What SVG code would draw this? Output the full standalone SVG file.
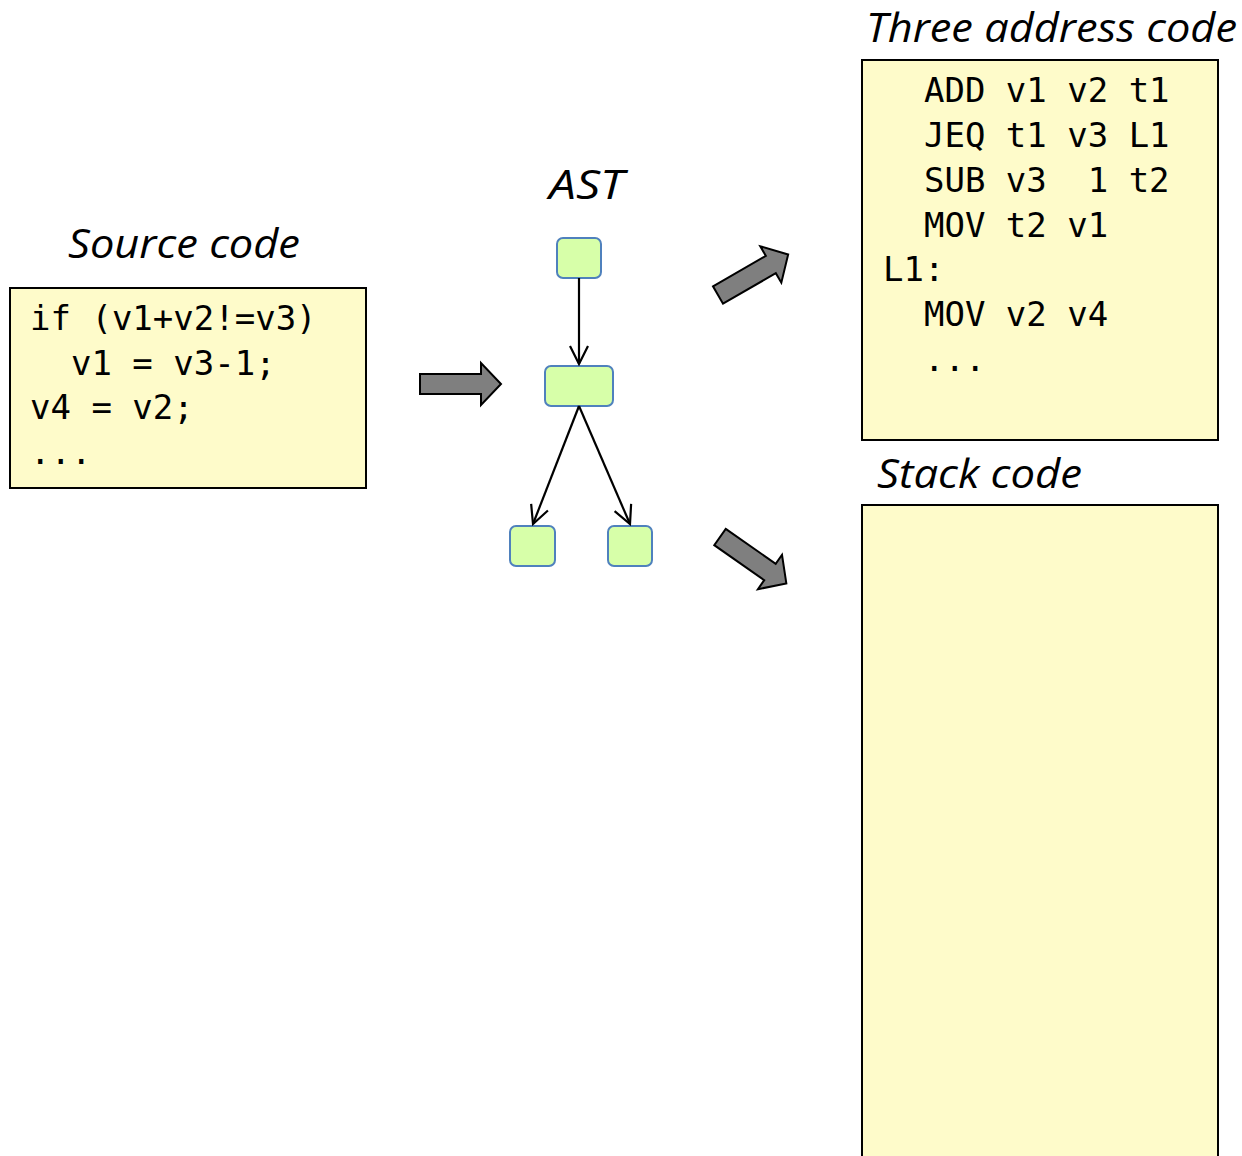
<svg xmlns="http://www.w3.org/2000/svg" width="1242" height="1156" viewBox="0 0 1242 1156">
  <style>
    .title { font-family: "Open Sans", "Noto Sans", sans-serif; font-style: italic; font-size: 40px; fill: #000; }
    .code { font-family: "DejaVu Sans Mono", "Liberation Mono", monospace; font-size: 34px; fill: #000; white-space: pre; }
    .codebox { fill: #FEFBCA; stroke: #000; stroke-width: 2; }
    .astnode { fill: #D7FFA9; stroke: #4F81BD; stroke-width: 2; }
    .edge { stroke: #000; stroke-width: 2.2; fill: none; }
    .bigarrow { fill: #7F7F7F; stroke: #000; stroke-width: 2; stroke-linejoin: miter; }
  </style>
  <defs>
    <marker id="open" viewBox="0 0 22 22" refX="20" refY="11" markerWidth="22" markerHeight="22" markerUnits="userSpaceOnUse" orient="auto">
      <path d="M2,2 L20,11 L2,20" fill="none" stroke="#000" stroke-width="2.2"/>
    </marker>
    <!-- block arrow pointing along +x, origin at the middle of its tail -->
    <path id="blockArrow" d="M0,-10 L61,-10 L61,-21 L81,0 L61,21 L61,10 L0,10 Z"/>
  </defs>

  <rect width="1242" height="1156" fill="#fff"/>

  <!-- Source code -->
  <g id="source">
    <text class="title" x="68" y="258" textLength="232" lengthAdjust="spacingAndGlyphs">Source code</text>
    <rect class="codebox" x="10" y="288" width="356" height="200"/>
    <text class="code" x="30" y="330">if (v1+v2!=v3)</text>
    <text class="code" x="30" y="375">  v1 = v3-1;</text>
    <text class="code" x="30" y="419">v4 = v2;</text>
    <text class="code" x="30" y="464">...</text>
  </g>

  <!-- AST -->
  <g id="ast">
    <text class="title" x="549" y="199" textLength="75" lengthAdjust="spacingAndGlyphs">AST</text>
    <rect id="ast-root" class="astnode" x="557" y="238" width="44" height="40" rx="6"/>
    <rect id="ast-mid" class="astnode" x="545" y="366" width="68" height="40" rx="6"/>
    <rect id="ast-left" class="astnode" x="510" y="526" width="45" height="40" rx="6"/>
    <rect id="ast-right" class="astnode" x="608" y="526" width="44" height="40" rx="6"/>
  </g>

  <!-- Three address code -->
  <g id="three-address">
    <text class="title" x="866" y="42" textLength="371" lengthAdjust="spacingAndGlyphs">Three address code</text>
    <rect class="codebox" x="862" y="60" width="356" height="380"/>
    <text class="code" x="883" y="102">  ADD v1 v2 t1</text>
    <text class="code" x="883" y="147">  JEQ t1 v3 L1</text>
    <text class="code" x="883" y="192">  SUB v3  1 t2</text>
    <text class="code" x="883" y="237">  MOV t2 v1</text>
    <text class="code" x="883" y="281">L1:</text>
    <text class="code" x="883" y="326">  MOV v2 v4</text>
    <text class="code" x="883" y="371">  ...</text>
  </g>

  <!-- Stack code -->
  <g id="stack">
    <text class="title" x="877" y="488" textLength="205" lengthAdjust="spacingAndGlyphs">Stack code</text>
    <rect class="codebox" x="862" y="505" width="356" height="670"/>
  </g>

  <!-- Connectors -->
  <g id="connectors">
    <line class="edge" x1="579" y1="278" x2="579" y2="364" marker-end="url(#open)"/>
    <line class="edge" x1="579" y1="406" x2="533" y2="524" marker-end="url(#open)"/>
    <line class="edge" x1="579" y1="406" x2="630" y2="524" marker-end="url(#open)"/>
    <use href="#blockArrow" class="bigarrow" transform="translate(420,384)"/>
    <use href="#blockArrow" class="bigarrow" transform="translate(718,295) rotate(-30)"/>
    <use href="#blockArrow" class="bigarrow" transform="translate(720,537) rotate(35)"/>
  </g>
</svg>
